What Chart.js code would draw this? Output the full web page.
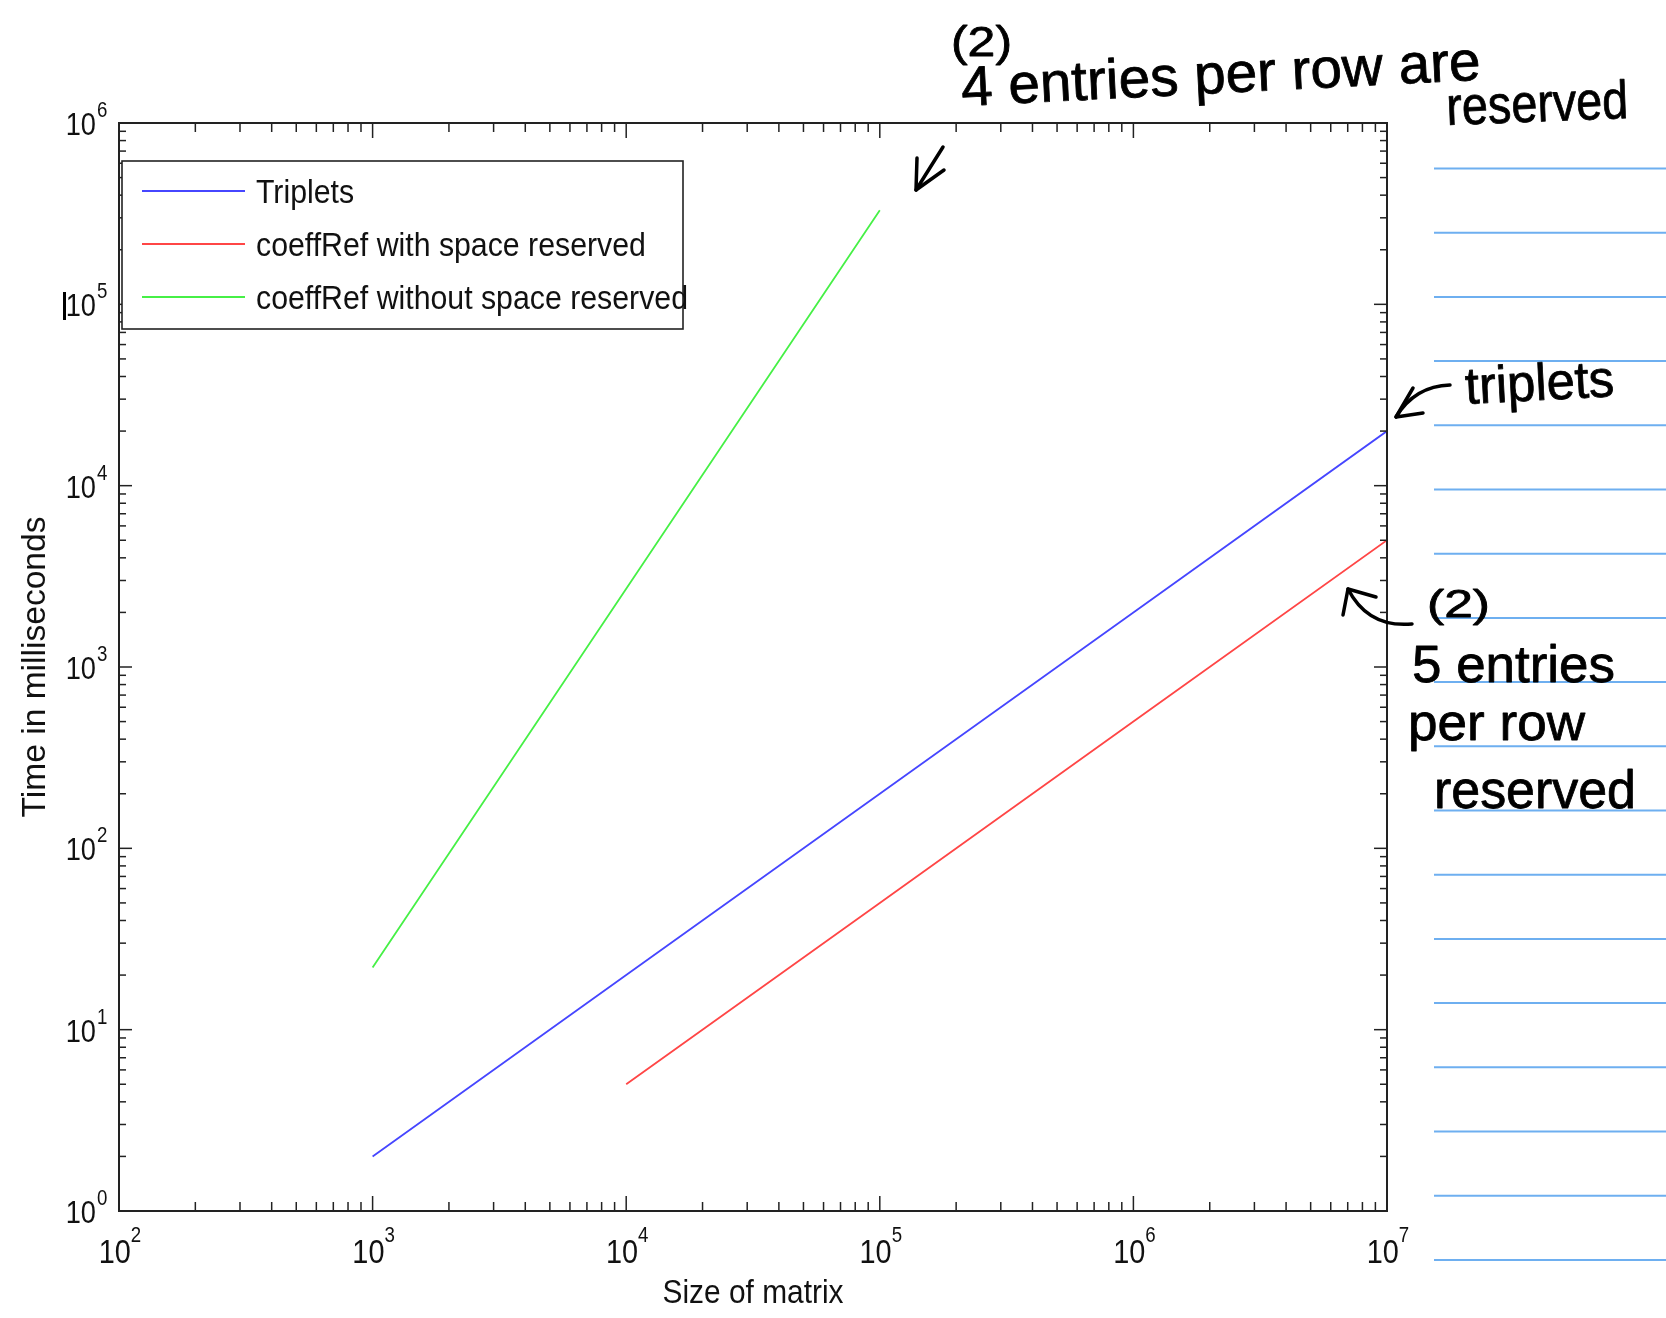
<!DOCTYPE html>
<html>
<head>
<meta charset="utf-8">
<script src="https://cdn.jsdelivr.net/npm/chart.js@4.4.1/dist/chart.umd.min.js"></script>
<style>
html, body { margin: 0; padding: 0; background: #fff; }
#chart { display: block; }
</style>
</head>
<body>
<canvas id="chart" width="1666" height="1318"></canvas>
<script>
// values
const matrixSizes = [1e3, 1e4, 1e5, 1e6, 1e7];
const tripletsMs = [2, 20, 200, 2000, 20000];
const reservedSizes = [1e4, 1e5, 1e6, 1e7];
const reservedMs = [5, 50, 500, 5000];
const unreservedSizes = [1e3, 1e4, 1e5];
const unreservedMs = [22, 2700, 330000];

const xDecades = [2, 3, 4, 5, 6, 7];
const yDecades = [0, 1, 2, 3, 4, 5, 6];

const seriesLabels = ["Triplets", "coeffRef with space reserved", "coeffRef without space reserved"];
const seriesColors = ["rgb(70,70,255)", "rgb(255,70,70)", "rgb(70,240,70)"];

const xTitle = "Size of matrix";
const yTitle = "Time in milliseconds";

const SANS = "'Liberation Sans', Arial, sans-serif";
const INK = "#222";

function pairs(xs, ys) {
    return xs.map((x, i) => ({x: x, y: ys[i]}));
}

// draw text squeezed/stretched to a given width
function drawFitted(ctx, str, x, y, width, size, opts) {
    opts = opts || {};
    ctx.save();
    ctx.font = size + "px " + (opts.family || SANS);
    const w = ctx.measureText(str).width;
    ctx.translate(x, y);
    if (opts.angle) ctx.rotate(opts.angle * Math.PI / 180);
    ctx.scale(width / w, 1);
    ctx.textAlign = "left";
    ctx.textBaseline = "alphabetic";
    let ox = 0;
    if (opts.align === "center") ox = -w / 2;
    if (opts.align === "right") ox = -w;
    ctx.fillStyle = opts.color || "#000";
    ctx.fillText(str, ox, 0);
    if (opts.stroke) {
        ctx.lineWidth = opts.stroke;
        ctx.strokeStyle = ctx.fillStyle;
        ctx.lineJoin = "round";
        ctx.strokeText(str, ox, 0);
    }
    ctx.restore();
}

function textWidth(ctx, str, size, sx) {
    ctx.font = size + "px " + SANS;
    return ctx.measureText(str).width * sx;
}

function drawSqueezed(ctx, str, x, y, size, sx) {
    ctx.save();
    ctx.font = size + "px " + SANS;
    ctx.translate(x, y);
    ctx.scale(sx, 1);
    ctx.textAlign = "left";
    ctx.textBaseline = "alphabetic";
    ctx.fillStyle = "#111";
    ctx.fillText(str, 0, 0);
    ctx.restore();
}

function line(ctx, pts) {
    ctx.beginPath();
    ctx.moveTo(pts[0][0], pts[0][1]);
    for (let i = 1; i < pts.length; i++) ctx.lineTo(pts[i][0], pts[i][1]);
    ctx.stroke();
}

const axesPlugin = {
    id: "octaveAxes",
    afterDatasetsDraw(chart) {
        const ctx = chart.ctx;
        const a = chart.chartArea;
        const xs = chart.scales.x, ys = chart.scales.y;
        ctx.save();
        ctx.strokeStyle = INK;
        ctx.lineWidth = 1.5;

        // inward ticks on all four sides
        xDecades.forEach((d, i) => {
            const major = Math.pow(10, d);
            const px = xs.getPixelForValue(major);
            line(ctx, [[px, a.bottom], [px, a.bottom - 15]]);
            line(ctx, [[px, a.top], [px, a.top + 15]]);
            if (i === xDecades.length - 1) return;
            for (let m = 2; m <= 9; m++) {
                const mx = xs.getPixelForValue(m * major);
                line(ctx, [[mx, a.bottom], [mx, a.bottom - 9]]);
                line(ctx, [[mx, a.top], [mx, a.top + 9]]);
            }
        });
        yDecades.forEach((d, i) => {
            const major = Math.pow(10, d);
            const py = ys.getPixelForValue(major);
            line(ctx, [[a.left, py], [a.left + 13, py]]);
            line(ctx, [[a.right, py], [a.right - 13, py]]);
            if (i === yDecades.length - 1) return;
            for (let m = 2; m <= 9; m++) {
                const my = ys.getPixelForValue(m * major);
                line(ctx, [[a.left, my], [a.left + 7, my]]);
                line(ctx, [[a.right, my], [a.right - 7, my]]);
            }
        });

        ctx.lineWidth = 2;
        ctx.strokeRect(a.left, a.top, a.right - a.left, a.bottom - a.top);
        ctx.restore();
    },
    afterDraw(chart) {
        const ctx = chart.ctx;
        const a = chart.chartArea;
        const xs = chart.scales.x, ys = chart.scales.y;
        const sx = 0.85;

        // tick labels as 10^n
        xDecades.forEach(d => {
            const px = xs.getPixelForValue(Math.pow(10, d));
            const w1 = textWidth(ctx, "10", 34, sx);
            const w2 = textWidth(ctx, String(d), 22, sx);
            const left = px - (w1 + w2) / 2 + 1;
            drawSqueezed(ctx, "10", left, a.bottom + 52, 34, sx);
            drawSqueezed(ctx, String(d), left + w1, a.bottom + 31, 22, sx);
        });
        yDecades.forEach(d => {
            const py = ys.getPixelForValue(Math.pow(10, d));
            const w1 = textWidth(ctx, "10", 32, sx);
            drawSqueezed(ctx, "10", a.left - 23 - w1, py + 12, 32, sx);
            drawSqueezed(ctx, String(d), a.left - 22, py - 6, 22, sx);
        });

        // axis titles
        drawFitted(ctx, xTitle, (a.left + a.right) / 2, a.bottom + 92, 181, 34, {align: "center", color: "#111"});
        drawFitted(ctx, yTitle, 45, (a.top + a.bottom) / 2, 301, 34, {align: "center", angle: -90, color: "#111"});

        // stray caret mark next to 10^5
        ctx.fillStyle = "#000";
        ctx.fillRect(63, 292, 3, 28);

        // legend box
        ctx.save();
        ctx.fillStyle = "#fff";
        ctx.fillRect(122, 161, 561, 168);
        ctx.strokeStyle = INK;
        ctx.lineWidth = 1.6;
        ctx.strokeRect(122, 161, 561, 168);
        const longest = seriesLabels[2];
        ctx.font = "33px " + SANS;
        const lsx = 432 / ctx.measureText(longest).width;
        chart.data.datasets.forEach((ds, i) => {
            const ly = 191 + i * 53;
            ctx.strokeStyle = ds.borderColor;
            ctx.lineWidth = 2;
            line(ctx, [[142, ly], [245, ly]]);
            drawSqueezed(ctx, ds.label, 256, ly + 12, 33, lsx);
        });
        ctx.restore();

        // notebook ruling on the right
        ctx.save();
        ctx.strokeStyle = "rgb(110,175,240)";
        ctx.lineWidth = 2;
        for (let k = 0; k < 18; k++) {
            const ry = 168.5 + k * 64.2;
            line(ctx, [[1434, ry], [1666, ry]]);
        }
        ctx.restore();

        // handwritten notes
        const hand = {color: "#000", stroke: 0.8};
        drawFitted(ctx, "(2)", 951, 56, 61, 42, hand);
        drawFitted(ctx, "4 entries per row are", 962, 106, 520, 56, Object.assign({angle: -2.9}, hand));
        drawFitted(ctx, "reserved", 1447, 125, 182, 54, Object.assign({angle: -2.2}, hand));
        drawFitted(ctx, "triplets", 1466, 404, 149, 52, Object.assign({angle: -3}, hand));
        drawFitted(ctx, "(2)", 1427, 617, 63, 38, hand);
        drawFitted(ctx, "5 entries", 1412, 682, 203, 52, hand);
        drawFitted(ctx, "per row", 1408, 740, 177, 52, hand);
        drawFitted(ctx, "reserved", 1434, 808, 202, 54, hand);

        // arrows
        ctx.save();
        ctx.strokeStyle = "#000";
        ctx.lineWidth = 3.5;
        ctx.lineCap = "round";
        ctx.lineJoin = "round";
        line(ctx, [[943, 147], [916, 190]]);
        line(ctx, [[917, 158], [916, 190], [944, 170]]);

        ctx.beginPath();
        ctx.moveTo(1450, 385);
        ctx.quadraticCurveTo(1415, 386, 1396, 417);
        ctx.stroke();
        line(ctx, [[1413, 388], [1396, 417], [1423, 413]]);

        ctx.beginPath();
        ctx.moveTo(1412, 624);
        ctx.quadraticCurveTo(1368, 628, 1348, 589);
        ctx.stroke();
        line(ctx, [[1343, 615], [1348, 589], [1376, 597]]);
        ctx.restore();
    }
};

const ctx = document.getElementById("chart").getContext("2d");
const chart = new Chart(ctx, {
    type: "line",
    data: {
        datasets: [{
            label: seriesLabels[0],
            data: pairs(matrixSizes, tripletsMs),
            borderColor: seriesColors[0]
        }, {
            label: seriesLabels[1],
            data: pairs(reservedSizes, reservedMs),
            borderColor: seriesColors[1]
        }, {
            label: seriesLabels[2],
            data: pairs(unreservedSizes, unreservedMs),
            borderColor: seriesColors[2]
        }]
    },
    options: {
        responsive: false,
        animation: false,
        devicePixelRatio: 1,
        layout: {padding: {left: 119, top: 123, right: 279, bottom: 107}},
        plugins: {legend: {display: false}, tooltip: {enabled: false}},
        elements: {point: {radius: 0}, line: {borderWidth: 1.8, tension: 0}},
        scales: {
            x: {type: "logarithmic", min: 100, max: 1e7, display: false},
            y: {type: "logarithmic", min: 1, max: 1e6, display: false}
        }
    },
    plugins: [axesPlugin]
});
</script>
</body>
</html>
